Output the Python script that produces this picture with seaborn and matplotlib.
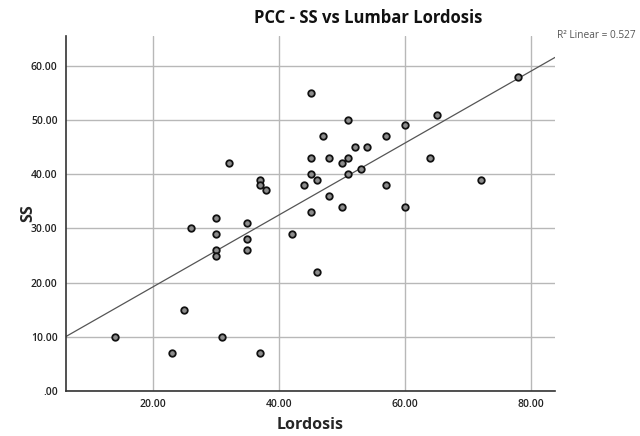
import matplotlib
matplotlib.use("Agg")
import matplotlib.pyplot as plt
import seaborn as sns
import numpy as np
import pandas as pd

lordosis = [45, 78, 51, 65, 60, 47, 57, 52, 54, 32, 45, 48, 51, 50, 64, 45, 51, 53,
            37, 37, 38, 44, 46, 48, 57, 72, 50, 60, 45, 30, 35, 26, 30, 42, 35, 30,
            35, 30, 46, 25, 14, 31, 23, 37]
ss = [55, 58, 50, 51, 49, 47, 47, 45, 45, 42, 43, 43, 43, 42, 43, 40, 40, 41,
      39, 38, 37, 38, 39, 36, 38, 39, 34, 34, 33, 32, 31, 30, 29, 29, 28, 26,
      26, 25, 22, 15, 10, 10, 7, 7]
x_ticks = [20, 40, 60, 80]
x_tick_labels = ["20.00", "40.00", "60.00", "80.00"]
y_ticks = [0, 10, 20, 30, 40, 50, 60]
y_tick_labels = [".00", "10.00", "20.00", "30.00", "40.00", "50.00", "60.00"]
title = "PCC - SS vs Lumbar Lordosis"
r2_text = "R\u00b2 Linear = 0.527"

df = pd.DataFrame({"Lordosis": lordosis, "SS": ss})

sns.set_theme(style="white")
plt.rcParams["font.family"] = ["Open Sans", "DejaVu Sans"]

fig = plt.figure(figsize=(6.4, 4.36), dpi=100)
ax = fig.add_axes([66/640, 1 - 391/436, (555-66)/640, (391-36)/436])

ax.set_xlim(6.2, 83.8)
ax.set_ylim(0, 65.5)
ax.set_xticks(x_ticks)
ax.set_xticklabels(x_tick_labels)
ax.set_yticks(y_ticks)
ax.set_yticklabels(y_tick_labels)
ax.grid(True, color="#b8b8b8", linewidth=1.0)
ax.set_axisbelow(True)

sns.regplot(data=df, x="Lordosis", y="SS", ax=ax, ci=None, scatter=False,
            truncate=False, line_kws={"color": "#555555", "linewidth": 0.9})
sns.scatterplot(data=df, x="Lordosis", y="SS", ax=ax, s=22, color="#8c8c8c",
                edgecolor="#111111", linewidth=1.3, zorder=3)

for side in ["top", "right"]:
    ax.spines[side].set_visible(False)
for side in ["left", "bottom"]:
    ax.spines[side].set_color("#333333")
    ax.spines[side].set_linewidth(1.2)

ax.tick_params(axis="both", length=0, pad=6, labelsize=7.5, colors="#222222")
for lbl in ax.get_xticklabels() + ax.get_yticklabels():
    lbl.set_fontweight("semibold")

ax.set_xlabel("Lordosis", fontsize=11.5, fontweight="bold")
ax.set_ylabel("SS", fontsize=11.5, fontweight="bold")
ax.xaxis.set_label_coords(0.499, -(425 - 391) / 355)
ax.yaxis.set_label_coords(-(66 - 28) / 489, 0.5)
ax.xaxis.label.set_va("center")
ax.yaxis.label.set_va("center")

fig.text(368/640, 1 - 18/436, title, ha="center", va="center",
         fontsize=12, fontweight="bold", color="#111111")
fig.text(557/640, 1 - 36/436, r2_text, ha="left", va="center",
         fontsize=7.3, color="#555555")

fig.savefig("out.png", dpi=100)
